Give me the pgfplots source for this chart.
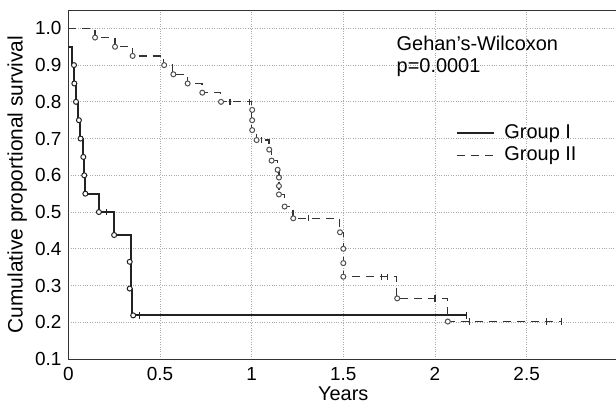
\documentclass[border=0pt]{standalone}
\usepackage{pgfplots}
\pgfplotsset{compat=1.18}
\usepackage{fontspec}
\setmainfont{Liberation Sans}
\usetikzlibrary{calc}

\definecolor{gone}{HTML}{222222}
\definecolor{gtwo}{HTML}{333333}
\definecolor{markc}{HTML}{505050}
\definecolor{gridc}{HTML}{AAAAAA}

% Group I: survival steps (x = years)
\pgfplotstableread{
x y
0     0.95
0.02  0.90
0.03  0.85
0.04  0.80
0.055 0.75
0.065 0.70
0.08  0.65
0.087 0.60
0.093 0.55
0.17  0.50
0.25  0.4375
0.34  0.3646
0.34  0.2917
0.345 0.2188
2.17  0.2188
}\groupone

\pgfplotstableread{
x y
0.031 0.90
0.033 0.85
0.042 0.80
0.058 0.75
0.067 0.70
0.082 0.65
0.087 0.60
0.093 0.55
0.167 0.50
0.25  0.4375
0.335 0.3646
0.335 0.2917
0.354 0.2188
}\gonemarks

\pgfplotstableread{
x y
0.21 0.50
0.39 0.2188
2.17 0.2188
}\gonecens

% Group II
\pgfplotstableread{
x y
0     1.00
0.146 0.975
0.255 0.95
0.35  0.925
0.52  0.90
0.57  0.875
0.65  0.85
0.73  0.825
0.83  0.80
1.0   0.778
1.0   0.75
1.0   0.723
1.025 0.696
1.095 0.67
1.11  0.64
1.14  0.615
1.15  0.594
1.15  0.571
1.15  0.548
1.18  0.515
1.225 0.483
1.48  0.445
1.50  0.40
1.50  0.361
1.50  0.324
1.79  0.265
2.07  0.202
2.69  0.202
}\grouptwo

\pgfplotstableread{
x y
0.146 0.975
0.255 0.95
0.351 0.925
0.523 0.90
0.573 0.875
0.651 0.85
0.731 0.825
0.833 0.80
1.003 0.778
1.003 0.75
1.003 0.723
1.027 0.696
1.096 0.67
1.109 0.64
1.142 0.615
1.149 0.594
1.149 0.571
1.149 0.548
1.18  0.515
1.227 0.483
1.482 0.445
1.50  0.40
1.50  0.361
1.50  0.324
1.794 0.265
2.07  0.202
}\gtwomarks

\pgfplotstableread{
x y
0.882 0.80
0.99  0.80
1.055 0.696
1.31  0.483
1.709 0.324
1.739 0.324
2.00  0.265
2.19  0.202
2.61  0.202
2.69  0.202
}\gtwocens

\begin{document}
\fontsize{20}{24}\selectfont
\begin{tikzpicture}
\begin{axis}[
    name=ax,
    scale only axis,
    width=550bp, height=349bp,
    xmin=0, xmax=3, ymin=0.1, ymax=1.05,
    xtick={0,0.5,1,1.5,2,2.5},
    ytick={0.1,0.2,0.3,0.4,0.5,0.6,0.7,0.8,0.9,1.0},
    /pgf/number format/assume math mode=true,
    yticklabel style={/pgf/number format/.cd, fixed, fixed zerofill, precision=1},
    ticklabel style={font=\fontsize{19}{22}\selectfont},
    xticklabel style={yshift=-1.5bp},
    major tick length=0pt,
    grid=major,
    major grid style={dotted, color=gridc, line width=0.9pt},
    axis line style={color=black!80, line width=1pt},
    xlabel={Years},
    ylabel={Cumulative proportional survival},
    xlabel style={at={(axis description cs:0.5,-0.1)}, anchor=center},
    ylabel style={at={(axis description cs:-0.093,0.5)}, anchor=center,
                  font=\fontsize{21}{24}\selectfont},
    legend style={at={(axis cs:2.1,0.75)}, anchor=north west,
                  draw=none, fill=none, row sep=1.5bp,
                  /tikz/every odd column/.style={column sep=7bp}},
    legend cell align=left,
    legend image code/.code={\draw[#1] (0bp,0bp) -- (37bp,0bp);},
]
\addplot[const plot, color=gone, line width=2pt] table {\groupone};
\addlegendentry{Group I}
\addplot[const plot, color=gtwo, line width=1.3pt, dash pattern=on 8bp off 6bp] table {\grouptwo};
\addlegendentry{Group II}

\addplot[only marks, mark=*, mark size=2.5bp, forget plot,
         mark options={draw=gone, fill=white, line width=1pt}] table {\gonemarks};
\addplot[only marks, mark=|, mark size=3.2bp, forget plot,
         mark options={draw=gone, line width=1.2pt}] table {\gonecens};
\addplot[only marks, mark=*, mark size=2.5bp, forget plot,
         mark options={draw=markc, fill=white, line width=1pt}] table {\gtwomarks};
\addplot[only marks, mark=|, mark size=3.2bp, forget plot,
         mark options={draw=gtwo, line width=1.2pt}] table {\gtwocens};

\node[anchor=base west] at (axis cs:1.754,0.941) {Gehan’s-Wilcoxon};
\node[anchor=base west] at (axis cs:1.754,0.88) {p=0.0001};
\end{axis}
\pgfresetboundingbox
\useasboundingbox ($(ax.south west)+(-68.3bp,-47bp)$) rectangle ($(ax.south west)+(547.7bp,359bp)$);
\end{tikzpicture}
\end{document}
